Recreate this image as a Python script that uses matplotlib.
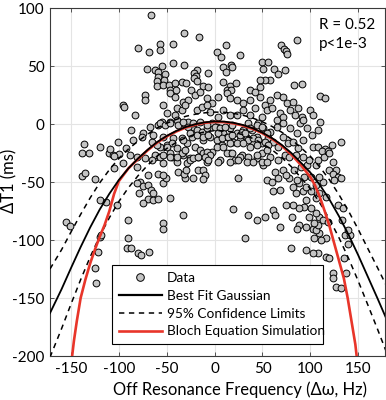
import matplotlib.pyplot as plt
from matplotlib.lines import Line2D

plt.rcParams['font.family'] = ['Lato', 'DejaVu Sans']
plt.rcParams['axes.unicode_minus'] = False

# ---- measured points (off-resonance in Hz, delta T1 in ms), grouped by region ----
# upper scatter (dT1 > 30 ms)
top_hz = [-66, -32, -16, -80, -69, -57, -57, -44, 12, 2,
          7, 26, -43, -32, 17, 18, -55, -71, -62, -59,
          -18, 9, 12, -59, -52, -60, -53, -22, -19.5, -6.5,
          8.5, -60, -54, -48, -41.5, -34.5, -30, -21.5, -18, 16,
          22, 12.5, 17, 37, -47, -25, -40, -12.5, -6.5, 86,
          69, 72, 74.5, 76, 49, 56, 51, 62, 66.5, 73,
          58, 52.5, 47, 83, 91, 47]
top_ms = [94, 79, 75, 65.5, 62.5, 69.5, 64, 69, 68, 62,
          58, 60, 52.5, 51.5, 51.5, 49, 50.5, 48, 47, 45,
          47, 49, 45, 41, 43, 37, 38, 44.5, 41.5, 44.5,
          36.5, 33, 34, 34, 36, 36.5, 36, 39.5, 37, 33,
          36, 29.5, 29.5, 29.5, 29.5, 29.5, 30, 33, 32, 73,
          68, 65, 63.5, 60.5, 54, 53.5, 48, 48, 43, 47,
          38.5, 38.5, 38.5, 34, 35, 32]

# dense core around the peak
core_hz = [-72.8, -72.8, -53.6, -46.7, -41.4, -32.7, -27.5, -20.6, -15.3, -8.4,
           -3.1, 3.8, 12.5, 16, 23, 30, 36.9, 42.1, 47.4, 52.6,
           57.8, 64.8, 71.8, 75.2, 82.2, 87.4, -83.2, -55.4, -50.2, -41.4,
           -39.7, -34.5, -31, -18.8, -13.6, -8.4, -4.9, 3.8, 9.1, 16,
           23, 30, 36.9, 42.1, 49.1, 54.3, 59.6, 64.8, 68.3, 71.8,
           78.7, 83.9, -74.5, -67.6, -58.9, -46.7, -39.7, -32.7, -27.5, -22.3,
           -18.8, -13.6, -8.4, -3.1, 2.1, 9.1, 16, 23, 30, 35.2,
           38.7, 45.6, 50.9, 57.8, 64.8, 71.8, 78.7, 85.7, 89.2, -85,
           -76.3, -65.8, -57.1, -50.2, -43.2, -34.5, -29.3, -24,
           -11.8, -4.9, 2.1, 7.3, 12.5, 19.5, 26.5, 33.4, 40.4, 43.9,
           49.1, 56.1, 61.3, 66.5, 71.8, 77, 82.2, 87.4, -81.5, -72.8,
           -62.3, -53.6, -44.9, -39.7, -32.7, -25.8, -17.1, -8.4, -3.1, 5.6,
           16, 21.2, 28.2, 35.2, 43.9, 50.9, 57.8, 66.5, 73.5]
core_ms = [25.2, 20.9, 16.6, 26.6, 23.8, 19.4, 20.9, 25.2, 28.1, 22.3,
           18, 23.8, 26.6, 22.3, 20.9, 18, 20.9, 28.1, 23.8, 16.6,
           20.9, 25.2, 23.8, 18, 19.4, 13.7, 7.9, 2.2, 9.4, 7.9,
           13.7, 12.3, 16.6, 12.3, 15.1, 16.6, 10.8, 6.5, 12.3, 7.9,
           7.9, 12.3, 7.9, 13.7, 6.5, 12.3, 13.7, 3.6, 9.4, 6.5,
           12.3, 7.9, -7.9, -2.1, -0.7, 2.2, 3.6, 0.7, 2.2, -2.1,
           -5, -6.4, -3.6, 0.7, -2.1, -7.9, -3.6, -7.9, -5, 0.7,
           -5, 0.7, -3.6, -6.4, -2.1, 0.7, -3.6, -7.9, 0.7, -13.6,
           -10.8, -15.1, -19.4, -17.9, -12.2, -12.2, -16.5, -10.8,
           -13.6, -10.8, -13.6, -17.9, -10.8, -15.1, -13.6, -12.2, -15.1, -10.8,
           -16.5, -12.2, -15.1, -19.4, -10.8, -16.5, -15.1, -20.8, -28, -29.5,
           -28, -33.8, -28, -32.3, -26.6, -29.5, -28, -32.3, -23.7, -30.9,
           -25.1, -30.9, -26.6, -28, -29.5, -35.2, -28, -30.9, -26.6]

core2_hz = [-57.1, -51.9, -46.7, -38, -32.7, -27.5, -22.3, -15.3, -8.4, 0.3,
            5.6, 10.8, 17.8, 28.2, 36.9, 43.9, 49.1, 54.3, -64.1, -53.6,
            -44.9, -32.7, -25.8, -18.8, -11.8, -6.6, 3.8, 7.3, 14.3, 17.8,
            26.5, 31.7, 35.2, 40.4, 45.6, 52.6, 56.1, -60.6, -50.2, -62.3,
            -57.1, -53.6, -46.7, -39.7, -34.5, -31, -20.6, -15.3, -11.8, -8.4,
            -4.9, 2.1, 9.1, 16, 23, 30, 36.9, 43.9, 49.1, 54.3,
            -65.8, -46.7, -39.7, -29.3, -25.8, -22.3, -17.1, -10.1, -6.6, 3.8,
            12.5, 17.8, 26.5, 33.4, 40.4, 43.9, 49.1, 54.3, 16, 24.7]
core2_ms = [0.7, -0.7, 0.7, -0.7, 2.2, -2.1, 0.7, 2.2, -0.7, -2.1,
            -3.6, -2.1, -0.7, -6.4, -3.6, -0.7, -2.1, -7.9, -9.3, -10.8,
            -16.5, -13.6, -7.9, -9.3, -10.8, -9.3, -7.9, -12.2, -10.8, -9.3,
            -9.3, -7.9, -13.6, -12.2, -13.6, -15.1, -17.9, -17.9, -19.4, -26.6,
            -28, -26.6, -25.1, -20.8, -25.1, -22.3, -19.4, -22.3, -25.1, -23.7,
            -26.6, -19.4, -19.4, -16.5, -16.5, -16.5, -19.4, -17.9, -25.1, -22.3,
            -30.9, -28, -28, -33.8, -30.9, -29.5, -28, -28, -30.9, -32.3,
            -25.1, -25.1, -28, -32.3, -32.3, -26.6, -32.3, -32.3, -32.3, -30.9]

# left flank
left_hz = [-155, -151, -139, -131, -136, -139, -135, -125, -120, -120,
           -120, -118.5, -121.5, -125, -124, -110, -106.5, -109.5, -113, -101,
           -100, -105, -105, -102, -96, -92.5, -88, -96, -94.5, -87,
           -91, -91, -92, -87, -80, -77, -69, -81, -69.5, -78,
           -74.5, -78.5, -69.5, -66, -64, -69.5, -64, -59, -53.5, -51,
           -59, -53.5, -46.5, -53.5, -53.5, -33, -81.5, -75]
left_ms = [-84, -88, -25, -25, -17, -45, -42, -47.5, -19.5, -65,
           -97.5, -95.5, -110, -124, -137, -24.5, -26.5, -21.5, -67, -15,
           -26, -27.5, -37.5, -69.5, -33, -20.5, -26.5, 16.5, 15, -5,
           -82.5, -98.5, -107, -107, -111, -113, -110, -37, -44, -49.5,
           -53.5, -59, -52.5, -56.5, -59.5, -64.5, -65, -64.5, -51, -46.5,
           -42.5, -44, -64, -85.5, -90.5, -78.5, -51, -68]

# below the centre
low_hz = [-38, -31, -32.5, -29.5, -22.5, -17, -12, -10, -12, 24.5,
          54.5, 19.5, 35, 44, 52.5, 31.5]
low_ms = [-41, -46.5, -42.5, -39.5, -46.5, -39.5, -39.5, -44, -47, -46.5,
          -48, -73.5, -78.5, -82.5, -80, -98.5]

# right flank, upper part
rup_hz = [71.5, 63, 59.5, 66.5, 68, 61, 61, 63, 68, 92.5,
          101.5, 108.5, 96, 103, 108.5, 122.5, 115.5, 112, 118.5, 132.5,
          110, 115.5, 91, 92.5, 99.5, 103, 110]
rup_ms = [-39.5, -41, -49.5, -46.5, -57, -58, -74, -78.5, -88.5, -13.5,
          -9.5, -5, -3.5, -19.5, -19.5, -18, -21, -23, -23.5, -15,
          24.5, 23, 6.5, 3.5, 12.5, 8, 2]

# right flank, lower part
rlo_hz = [95.5, 106, 116.5, 109.5, 100.5, 92, 85, 81.5, 88.5, 95.5,
          106, 113, 109.5, 100.5, 93.5, 86.5, 78, 74.5, 83, 90,
          97, 106, 107.5, 99, 92, 85, 78, 114.5, 120, 123.5,
          126.5, 120, 123.5, 128.5, 125, 132, 133.5, 135.5, 137, 126.5,
          132, 123.5, 123.5, 116.5, 119, 95.5, 79.5, 107.5, 102.5, 116.5,
          111, 109.5, 104, 102.5, 106, 107.5, 104, 95.5, 88.5, 86.5,
          109.5, 113, 118, 106, 99, 93.5, 100.5, 88.5, 81.5, 74.5,
          129, 134.5, 136, 139.5, 141.5, 139.5, 80.5]
rlo_ms = [-65.5, -64, -62.5, -59.5, -58, -58, -59.5, -54, -51, -54,
          -52.5, -49.5, -45.5, -45.5, -45.5, -48, -46.5, -44, -39.5, -36.5,
          -35, -35, -31, -31, -28, -26.5, -28, -28, -25, -32.5,
          -39.5, -39.5, -42.5, -45.5, -48, -46.5, -82.5, -115.5, -128, -140.5,
          -141.5, -128.5, -133, -114.5, -115.5, -108.5, -107, -111.5, -111.5, -98.5,
          -100, -94, -98.5, -90, -91.5, -87, -85.5, -88.5, -87, -90,
          -80, -82.5, -84, -77, -80, -71, -72.5, -72.5, -69.5, -69.5,
          -69.5, -72.5, -95.5, -103, -95.5, -91.5, -80]

# best fit gaussian and its 95% limits
fit_hz = [-172, -160, -150, -140, -130, -120, -110, -100, -90, -80,
          -70, -60, -50, -40, -30, -20, -10, 0, 10, 20,
          30, 40, 50, 60, 70, 80, 90, 100, 110, 120,
          130, 140, 150, 160, 170, 180]
fit_ms = [-163, -142.5, -124, -106, -89, -73.5, -60, -48, -38, -29.5,
          -22, -15.3, -10, -5.7, -2.3, 0.1, 1.7, 2.5, 2.3, 1.2,
          -0.7, -3.5, -7.3, -12, -17.7, -24.7, -33, -41.7, -52.5, -65,
          -79.5, -95.5, -113, -131.5, -150, -169]
upper_ms = [-124.9, -108.4, -92.9, -77.8, -63.5, -50.5, -39.3, -29.4, -21.3, -14.6,
            -8.6, -3.2, 0.9, 4.2, 6.9, 8.7, 9.9, 10.5, 10.3, 9.4,
            7.7, 5.3, 2.1, -1.9, -6.8, -12.9, -20.1, -27.6, -37, -48,
            -60.9, -75.1, -90.7, -107.2, -123.5, -140.2]
lower_ms = [-201.1, -176.6, -155.1, -134.2, -114.5, -96.5, -80.7, -66.6, -54.7, -44.4,
            -35.4, -27.4, -20.9, -15.6, -11.5, -8.5, -6.5, -5.5, -5.7, -7,
            -9.1, -12.3, -16.7, -22.1, -28.6, -36.5, -45.9, -55.8, -68, -82,
            -98.1, -115.9, -135.3, -155.8, -176.5, -197.8]

# Bloch equation simulation
sim_hz = [-151, -147, -144, -140, -135, -130, -125, -120, -115, -110,
          -105, -100, -90, -80, -70, -60, -50, -40, -30, -20,
          -10, 0, 10, 20, 30, 40, 50, 60, 70, 80,
          90, 100, 105, 110, 115, 120, 125, 130, 135, 139,
          144, 147, 150]
sim_ms = [-215, -187, -170, -150, -134, -120, -108, -97, -87, -75,
          -60, -49, -38, -30, -22.5, -15.8, -10.5, -6.2, -2.8, -0.3,
          1.3, 2, 1.8, 0.7, -1.2, -4, -7.8, -12.6, -18.5, -26,
          -35, -45.5, -53, -63, -75, -88, -103, -118, -133, -150,
          -175, -190, -212]

hz, ms = [], []
for a, b in [(top_hz, top_ms), (core_hz, core_ms), (core2_hz, core2_ms),
             (left_hz, left_ms), (low_hz, low_ms), (rup_hz, rup_ms), (rlo_hz, rlo_ms)]:
    assert len(a) == len(b), (len(a), len(b))
    hz += a
    ms += b

fig = plt.figure(figsize=(3.86, 4.0), dpi=100)
ax = fig.add_axes([0.1295, 0.11, 0.8692, 0.869])

ax.scatter(hz, ms, s=24, facecolor='#c4c4c4', edgecolor='black', linewidths=0.7, zorder=2)
ax.plot(fit_hz, upper_ms, color='black', lw=1.1, ls=(0, (3.5, 3)), zorder=3)
ax.plot(fit_hz, lower_ms, color='black', lw=1.1, ls=(0, (3.5, 3)), zorder=3)
ax.plot(sim_hz, sim_ms, color='#e8352a', lw=1.9, zorder=3)
ax.plot(fit_hz, fit_ms, color='black', lw=1.3, zorder=4)

ax.set_xlim(-172, 178.5)
ax.set_ylim(-200, 100)
ax.set_xticks([-150, -100, -50, 0, 50, 100, 150])
ax.set_yticks([-200, -150, -100, -50, 0, 50, 100])
ax.grid(True, color='#e4e4e4', lw=0.8)
ax.set_axisbelow(True)
for sp in ax.spines.values():
    sp.set_color('#3a3a3a')
    sp.set_linewidth(0.8)
ax.tick_params(direction='in', length=3, width=0.6, color='#3a3a3a',
               labelsize=11, pad=4, top=True, right=True)

ax.set_xlabel('Off Resonance Frequency (\u0394\u03c9, Hz)', fontsize=11.9)
ax.set_ylabel('\u0394T1 (ms)', fontsize=11.9)
ax.xaxis.set_label_coords(0.565, -0.074)
ax.yaxis.set_label_coords(-0.097, 0.505)

ax.text(0.802, 0.951, 'R = 0.52', transform=ax.transAxes, fontsize=11, va='center')
ax.text(0.802, 0.897, 'p<1e-3', transform=ax.transAxes, fontsize=11, va='center')

handles = [
    Line2D([], [], ls='none', marker='o', markersize=5.5, markerfacecolor='#c4c4c4',
           markeredgecolor='black', markeredgewidth=0.7),
    Line2D([], [], color='black', lw=1.6),
    Line2D([], [], color='black', lw=1.1, ls=(0, (3.5, 3))),
    Line2D([], [], color='#e8352a', lw=1.9),
]
labels = ['Data', 'Best Fit Gaussian', '95% Confidence Limits', 'Bloch Equation Simulation']
leg = ax.legend(handles, labels, loc='lower left', bbox_to_anchor=(0.164, 0.0144, 0.671, 0.253),
                mode='expand', fontsize=9.8, handlelength=3.2, handletextpad=0.35,
                borderpad=0.5, labelspacing=0.42, fancybox=False, framealpha=1,
                edgecolor='black')
leg.get_frame().set_linewidth(0.8)
leg.set_zorder(5)

fig.savefig('out.png', dpi=100)
